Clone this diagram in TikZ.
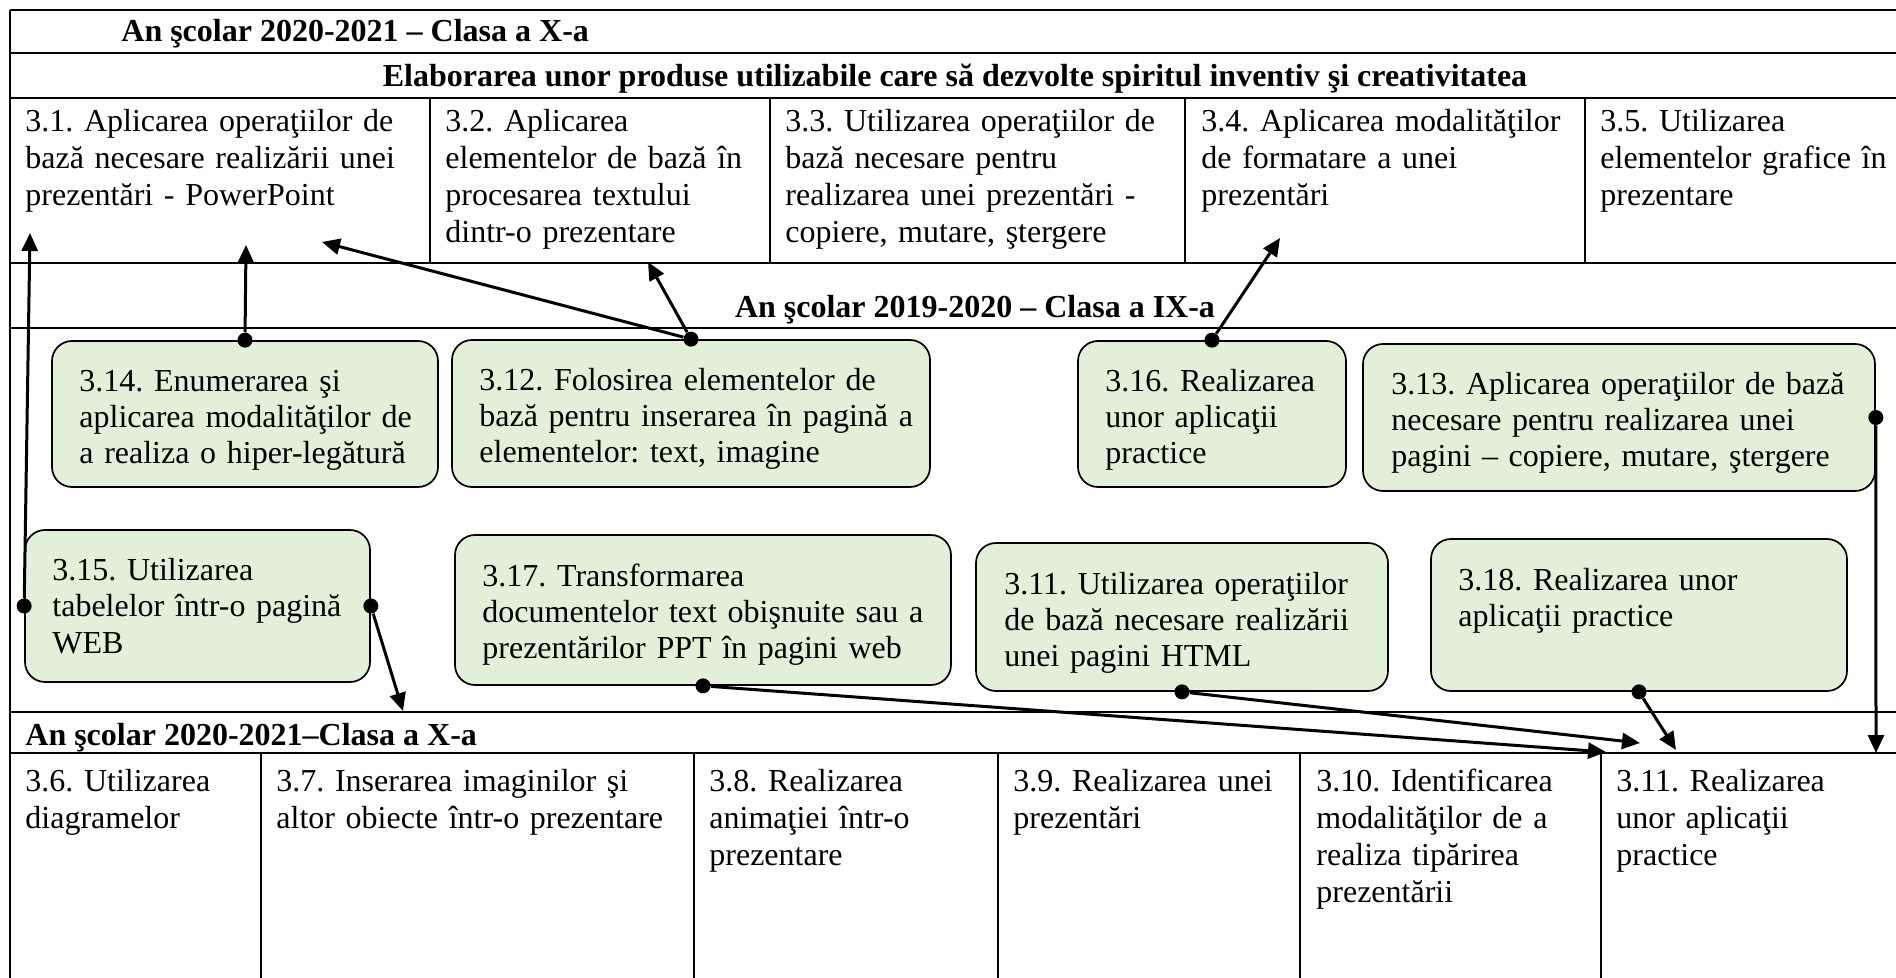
\documentclass[tikz,border=0pt]{standalone}
\usepackage{fontspec}
\setmainfont{Liberation Serif}
\usetikzlibrary{arrows.meta,fit}
\frenchspacing
\definecolor{cardgreen}{HTML}{E2EFD9}
\newcommand{\cellfont}{\fontsize{16pt}{18.5pt}\selectfont}
\newcommand{\cardfont}{\fontsize{16pt}{18pt}\selectfont}
\tikzstyle{rule}=[line width=1.1pt]
\tikzstyle{thinrule}=[line width=0.8pt]
\tikzstyle{head}=[inner sep=0pt, font=\cellfont\bfseries]
\tikzstyle{cell}=[anchor=base west, align=left, text width=240pt, inner sep=0pt, font=\cellfont]
\tikzstyle{cardtext}=[anchor=base west, align=left, text width=240pt, inner sep=0pt, font=\cardfont]
\tikzstyle{card}=[draw, rounded corners=10pt, fill=cardgreen, line width=0.85pt, inner sep=0pt]
\tikzstyle{dot}=[circle, fill, inner sep=0pt, minimum size=7.5pt]
\tikzstyle{conn}=[line width=1.5pt, -{Triangle[length=9pt,width=8pt]}]

\begin{document}
\begin{tikzpicture}[x=0.5pt, y=-0.5pt]
		   \useasboundingbox (0,0) rectangle (1896,978);
		   \begin{scope}
			   % table rules
			   \draw[rule] (10,10) -- (1896,10);
			   \draw[rule] (10,53) -- (1896,53);
			   \draw[rule] (10,98) -- (1896,98);
			   \draw[rule] (10,263) -- (1896,263);
			   \draw[rule] (10,328) -- (1896,328);
			   \draw[rule] (10,712) -- (1896,712);
			   \draw[rule] (10,753) -- (1896,753);
			   \draw[rule] (10,10) -- (10,978);
			   \draw[thinrule] (430,98) -- (430,263);
			   \draw[thinrule] (770,98) -- (770,263);
			   \draw[thinrule] (1185,98) -- (1185,263);
			   \draw[thinrule] (1585,98) -- (1585,263);
			   \draw[thinrule] (261,753) -- (261,978);
			   \draw[thinrule] (694,753) -- (694,978);
			   \draw[thinrule] (998,753) -- (998,978);
			   \draw[thinrule] (1300,753) -- (1300,978);
			   \draw[thinrule] (1601,753) -- (1601,978);
		   \end{scope}
		   \begin{scope}
			   \node (h1) at (121,42) [head, anchor=base west] {An şcolar 2020-2021 – Clasa a X-a};
			   \node (h2) at (955,87) [head, anchor=base] {Elaborarea unor produse utilizabile care să dezvolte spiritul inventiv şi creativitatea};
			   \node (h3) at (975,318) [head, anchor=base] {An şcolar 2019-2020 – Clasa a IX-a};
			   \node (h4) at (25,745) [head, anchor=base west] {An şcolar 2020-2021–Clasa a X-a};

			   \node (c31) at (25,132) [cell] {3.1. Aplicarea operaţiilor de\\bază necesare realizării unei\\prezentări - PowerPoint};
			   \node (c32) at (445,132) [cell] {3.2. Aplicarea\\elementelor de bază în\\procesarea textului\\dintr-o prezentare};
			   \node (c33) at (785,132) [cell] {3.3. Utilizarea operaţiilor de\\bază necesare pentru\\realizarea unei prezentări -\\copiere, mutare, ştergere};
			   \node (c34) at (1201,132) [cell] {3.4. Aplicarea modalităţilor\\de formatare a unei\\prezentări};
			   \node (c35) at (1600,132) [cell] {3.5. Utilizarea\\elementelor grafice în\\prezentare};

			   \node (c36) at (25,791) [cell] {3.6. Utilizarea\\diagramelor};
			   \node (c37) at (276,791) [cell] {3.7. Inserarea imaginilor şi\\altor obiecte într-o prezentare};
			   \node (c38) at (709,791) [cell] {3.8. Realizarea\\animaţiei într-o\\prezentare};
			   \node (c39) at (1013,791) [cell] {3.9. Realizarea unei\\prezentări};
			   \node (c310) at (1316,791) [cell] {3.10. Identificarea\\modalităţilor de a\\realiza tipărirea\\prezentării};
			   \node (c311) at (1616,791) [cell] {3.11. Realizarea\\unor aplicaţii\\practice};
		   \end{scope}
		   \begin{scope}
			   \node (b314) [card, fit={(52,341) (438,487)}] {};
			   \node (b312) [card, fit={(452,340) (930,487)}] {};
			   \node (b316) [card, fit={(1078,341) (1346,487)}] {};
			   \node (b313) [card, fit={(1363,344) (1875,491)}] {};
			   \node (b315) [card, fit={(25,530) (370,682)}] {};
			   \node (b317) [card, fit={(455,535) (951,685)}] {};
			   \node (b3h) [card, fit={(976,543) (1388,691)}] {};
			   \node (b318) [card, fit={(1431,539) (1847,691)}] {};

			   \node (t314) at (79,392) [cardtext] {3.14. Enumerarea şi\\aplicarea modalităţilor de\\a realiza o hiper-legătură};
			   \node (t312) at (479,391) [cardtext] {3.12. Folosirea elementelor de\\bază pentru inserarea în pagină a\\elementelor: text, imagine};
			   \node (t316) at (1105,392) [cardtext] {3.16. Realizarea\\unor aplicaţii\\practice};
			   \node (t313) at (1391,395) [cardtext] {3.13. Aplicarea operaţiilor de bază\\necesare pentru realizarea unei\\pagini – copiere, mutare, ştergere};
			   \node (t315) at (52,581) [cardtext] {3.15. Utilizarea\\tabelelor într-o pagină\\WEB};
			   \node (t317) at (482,586) [cardtext] {3.17. Transformarea\\documentelor text obişnuite sau a\\prezentărilor PPT în pagini web};
			   \node (t3h) at (1004,594) [cardtext] {3.11. Utilizarea operaţiilor\\de bază necesare realizării\\unei pagini HTML};
			   \node (t318) at (1458,590) [cardtext] {3.18. Realizarea unor\\aplicaţii practice};
		   \end{scope}
		   \begin{scope}
			   \node (d315w) at (b315.west) [dot] {};
			   \node (d315e) at (b315.east) [dot] {};
			   \node (d314) at (b314.north) [dot] {};
			   \node (d312) at (b312.north) [dot] {};
			   \node (d316) at (b316.north) [dot] {};
			   \node (d313) at (b313.east) [dot] {};
			   \node (d317) at (b317.south) [dot] {};
			   \node (d3h) at (b3h.south) [dot] {};
			   \node (d318) at (b318.south) [dot] {};

			   \coordinate (a31l) at (30,233);
			   \coordinate (a31m) at (246,245);
			   \coordinate (a31r) at (322,242);
			   \coordinate (a32) at (648,262);
			   \coordinate (a34) at (1280,238);
			   \coordinate (a37) at (403,711);
			   \coordinate (a311l) at (1606,752);
			   \coordinate (a311m) at (1640,743);
			   \coordinate (a311r) at (1676,750);
			   \coordinate (a311e) at (1876,753);

			   \path [conn] (d315w) edge (a31l);
			   \path [conn] (d314) edge (a31m);
			   \path [conn] (d312) edge (a31r);
			   \path [conn] (d312) edge (a32);
			   \path [conn] (d316) edge (a34);
			   \path [conn] (d315e) edge (a37);
			   \path [conn] (d317) edge (a311l);
			   \path [conn] (d3h) edge (a311m);
			   \path [conn] (d318) edge (a311r);
			   \path [conn] (d313) edge (a311e);
		   \end{scope}
	   \end{tikzpicture}
\end{document}
